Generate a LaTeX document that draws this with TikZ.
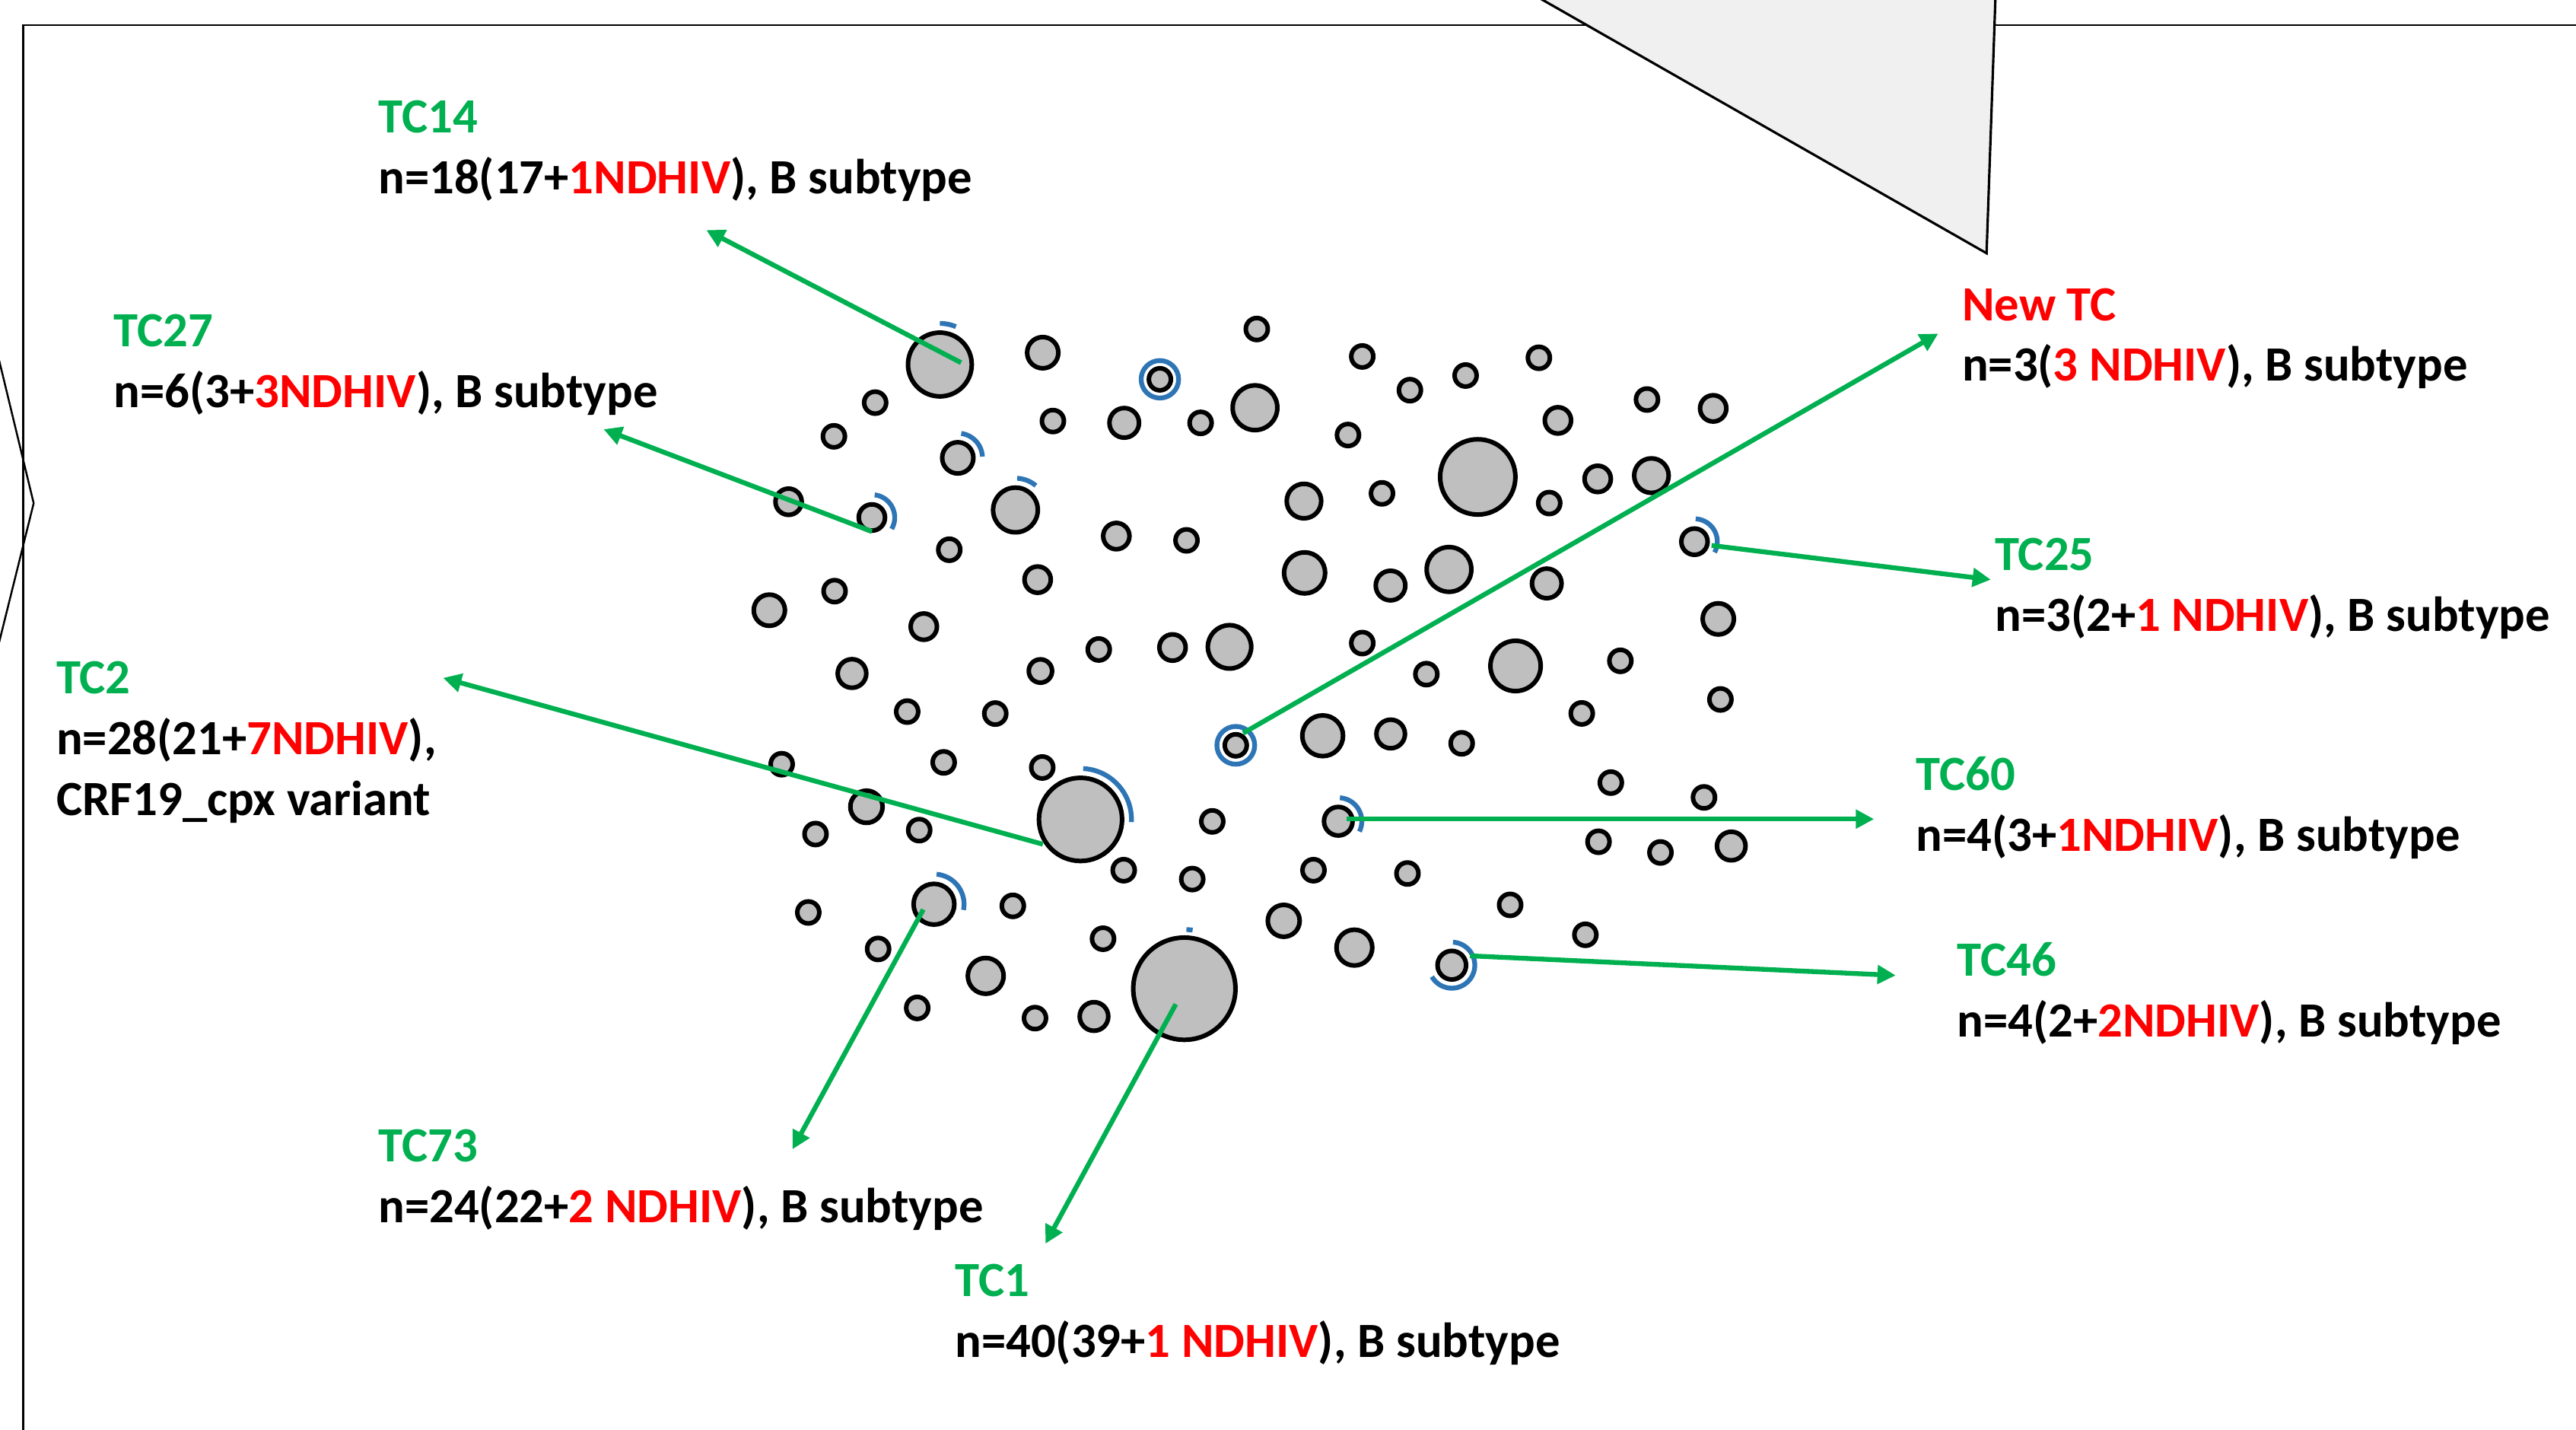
\documentclass[tikz,border=0pt]{standalone}
\usepackage{fontspec}
\setmainfont{Carlito}
\usetikzlibrary{arrows.meta}
\definecolor{tcgreen}{HTML}{00B050}
\definecolor{ndred}{HTML}{FF0000}
\definecolor{ringblue}{HTML}{2E75B6}
\definecolor{blobgray}{HTML}{BFBFBF}
\definecolor{panelgray}{HTML}{F0F0F0}
% one grey transmission-cluster dot: name, x, y, radius
\newcommand\blob[4]{\node[blob, minimum size={#4*0.43188mm}] (#1) at (#2,#3) {};}
% blue partial ring round a dot: centre x, centre y, radius, from angle, to angle
\newcommand\halo[5]{\draw[ring] plot[domain=#4:#5, samples=40] ({#1+#3*cos(\x)}, {#2-#3*sin(\x)});}
\newcommand\nd[1]{\textcolor{ndred}{#1}}
\begin{document}
\begin{tikzpicture}[x=0.021594cm, y=-0.021594cm,
  blob/.style={circle, draw=black, fill=blobgray, line width=1.7pt, inner sep=0pt, outer sep=0pt},
  ring/.style={draw=ringblue, line width=1.8pt},
  pointer/.style={draw=tcgreen, line width=1.8pt, -{Triangle[length=0.24cm,width=0.24cm]}},
  lbl/.style={anchor=base west, inner sep=0pt, font=\bfseries\fontsize{18.4pt}{22pt}\selectfont},
  tcname/.style={lbl, text=tcgreen},
  tcinfo/.style={lbl, text=black},
  frame/.style={draw=black, line width=0.7pt}]
\useasboundingbox (0,0) rectangle (1568,870);
\clip (0,0) rectangle (1568,870);

% slide frame and shapes cut by the edges
\draw[frame] (14.2,880) -- (14.2,15.4) -- (1580,15.4);
\draw[frame] (-10,180) -- (20.5,306.2) -- (-10,429);
\filldraw[fill=panelgray, draw=black, line width=0.9pt]
  (924.0,-8.6) -- (1209.2,154.1) -- (1214.9,-10) -- cycle;

% cluster dots
\blob{c1}{572.1}{221.8}{19.4}
\blob{c2}{634.7}{214.6}{9.5}
\blob{c3}{765.0}{200.2}{6.7}
\blob{c4}{706.0}{230.8}{6.7}
\blob{c5}{532.7}{245.0}{6.7}
\blob{c6}{507.6}{265.5}{6.7}
\blob{c7}{640.9}{256.2}{6.7}
\blob{c8}{684.3}{257.3}{9.0}
\blob{c9}{730.8}{257.3}{6.7}
\blob{c10}{763.9}{248.1}{13.6}
\blob{c11}{583.0}{278.6}{9.5}
\blob{c12}{618.1}{310.3}{13.6}
\blob{c13}{480.0}{305.3}{8.0}
\blob{c14}{530.7}{314.9}{8.0}
\blob{c15}{577.8}{334.5}{6.7}
\blob{c16}{679.5}{326.2}{8.0}
\blob{c17}{722.2}{328.8}{6.7}
\blob{c18}{508.0}{359.7}{6.7}
\blob{c19}{631.6}{352.7}{8.0}
\blob{c20}{468.3}{371.3}{9.5}
\blob{c21}{562.3}{381.3}{8.0}
\blob{c22}{668.8}{395.2}{6.7}
\blob{c23}{713.7}{394.0}{8.0}
\blob{c24}{748.4}{393.6}{13.2}
\blob{c25}{829.2}{216.9}{6.7}
\blob{c26}{858.2}{237.4}{6.7}
\blob{c27}{892.1}{228.5}{6.7}
\blob{c28}{936.7}{217.7}{6.7}
\blob{c29}{820.5}{264.7}{6.7}
\blob{c30}{899.5}{290.2}{22.9}
\blob{c31}{948.3}{255.8}{8.0}
\blob{c32}{1002.5}{243.1}{6.7}
\blob{c33}{1042.8}{248.5}{8.0}
\blob{c34}{793.7}{304.9}{10.5}
\blob{c35}{841.2}{300.2}{6.7}
\blob{c36}{943.0}{306.1}{6.7}
\blob{c37}{972.5}{291.4}{8.0}
\blob{c38}{1005.2}{289.4}{10.5}
\blob{c39}{1031.4}{329.6}{8.0}
\blob{c40}{794.1}{348.6}{12.5}
\blob{c41}{846.4}{356.3}{9.0}
\blob{c42}{882.0}{346.5}{13.6}
\blob{c43}{941.5}{355.0}{9.0}
\blob{c44}{1045.9}{376.6}{9.5}
\blob{c45}{829.2}{391.3}{6.7}
\blob{c46}{922.5}{405.2}{15.3}
\blob{c47}{986.3}{402.1}{6.7}
\blob{c48}{868.2}{410.2}{6.7}
\blob{c49}{1047.2}{425.6}{6.7}
\blob{c50}{962.8}{434.1}{6.7}
\blob{c51}{805.1}{447.7}{12.4}
\blob{c52}{846.5}{446.6}{8.7}
\blob{c53}{889.7}{452.3}{6.7}
\blob{c54}{980.5}{476.2}{6.7}
\blob{c55}{1037.2}{485.2}{6.7}
\blob{c56}{814.6}{499.7}{8.7}
\blob{c57}{973.0}{512.2}{6.7}
\blob{c58}{1010.7}{518.7}{6.7}
\blob{c59}{1053.8}{514.8}{8.7}
\blob{c60}{799.5}{529.5}{6.7}
\blob{c61}{856.7}{531.5}{6.7}
\blob{c62}{919.2}{550.6}{6.7}
\blob{c63}{781.4}{560.3}{9.7}
\blob{c64}{824.4}{576.6}{10.9}
\blob{c65}{883.7}{587.3}{8.7}
\blob{c66}{965.0}{568.8}{6.7}
\blob{c67}{518.6}{409.8}{8.7}
\blob{c68}{633.3}{408.3}{7.1}
\blob{c69}{552.2}{433.0}{6.7}
\blob{c70}{605.8}{434.2}{6.7}
\blob{c71}{475.8}{465.0}{6.7}
\blob{c72}{574.4}{463.9}{6.7}
\blob{c73}{634.4}{467.0}{6.7}
\blob{c74}{752.2}{453.5}{6.7}
\blob{c75}{527.4}{490.9}{9.8}
\blob{c76}{496.4}{507.5}{6.7}
\blob{c77}{559.5}{505.1}{6.7}
\blob{c78}{657.7}{498.6}{25.3}
\blob{c79}{737.9}{499.8}{6.7}
\blob{c80}{684.0}{529.5}{6.7}
\blob{c81}{725.7}{534.9}{6.7}
\blob{c82}{492.0}{555.2}{6.7}
\blob{c83}{568.5}{550.2}{12.4}
\blob{c84}{616.5}{551.2}{6.7}
\blob{c85}{534.5}{577.4}{6.7}
\blob{c86}{671.4}{571.2}{6.7}
\blob{c87}{600.0}{593.8}{10.9}
\blob{c88}{558.3}{613.3}{6.7}
\blob{c89}{630.0}{619.5}{6.7}
\blob{c90}{665.9}{618.5}{8.7}
\blob{c91}{720.9}{601.6}{31.1}

% blue marks on the highlighted clusters
\halo{572.1}{221.8}{25}{67}{90}
\halo{583.0}{278.6}{15}{3}{82}
\halo{618.1}{310.3}{19.3}{50}{87}
\halo{530.7}{314.9}{13.9}{-30}{83}
\halo{1031.4}{329.6}{13.9}{-28}{87}
\halo{657.7}{498.6}{31}{-3}{87}
\halo{814.6}{499.7}{14.3}{-26}{86}
\halo{568.5}{550.2}{18.3}{-11}{85}
\halo{883.7}{587.3}{14}{-150}{87}
\halo{720.9}{601.6}{36}{82}{88}
\draw[ring] (c4.center) circle[radius=11.4];
\draw[ring] (c74.center) circle[radius=11.5];

% labels
\node[tcname] (n14) at (230,81) {TC14};
\node[tcinfo] (i14) at (230,118) {n=18(17+\nd{1NDHIV}), B subtype};
\node[tcname] (n27) at (69,211) {TC27};
\node[tcinfo] (i27) at (69,248) {n=6(3+\nd{3NDHIV}), B subtype};
\node[tcname] (n2) at (34,422) {TC2};
\node[tcinfo] (i2) at (34,459) {n=28(21+\nd{7NDHIV}),};
\node[tcinfo] (j2) at (34,496) {CRF19\_cpx variant};
\node[lbl, text=ndred] (nnew) at (1194,195) {New TC};
\node[tcinfo] (inew) at (1194,232) {n=3(\nd{3 NDHIV}), B subtype};
\node[tcname] (n25) at (1214,347) {TC25};
\node[tcinfo] (i25) at (1214,384) {n=3(2+\nd{1 NDHIV}), B subtype};
\node[tcname] (n60) at (1166,481) {TC60};
\node[tcinfo] (i60) at (1166,518) {n=4(3+\nd{1NDHIV}), B subtype};
\node[tcname] (n46) at (1191,594) {TC46};
\node[tcinfo] (i46) at (1191,631) {n=4(2+\nd{2NDHIV}), B subtype};
\node[tcname] (n73) at (230,707) {TC73};
\node[tcinfo] (i73) at (230,744) {n=24(22+\nd{2 NDHIV}), B subtype};
\node[tcname] (n1) at (581,789) {TC1};
\node[tcinfo] (i1) at (581,826) {n=40(39+\nd{1 NDHIV}), B subtype};

% pointer ends
\coordinate (s14) at (585.0,220.7);  \coordinate (t14) at (429.9,140.0);
\coordinate (s27) at (530.7,323.4);  \coordinate (t27) at (367.4,261.2);
\coordinate (s2) at (634.8,513.7);   \coordinate (t2) at (269.7,412.5);
\coordinate (s73) at (562.0,553.4);  \coordinate (t73) at (482.4,699.3);
\coordinate (s1) at (715.7,611.0);   \coordinate (t1) at (636.3,756.8);
\coordinate (snew) at (756.7,446.1); \coordinate (tnew) at (1179.8,203.0);
\coordinate (s25) at (1041.8,331.9); \coordinate (t25) at (1211.8,352.7);
\coordinate (s60) at (819.5,498.4);  \coordinate (t60) at (1140.7,498.4);
\coordinate (s46) at (894.8,581.6);  \coordinate (t46) at (1153.9,593.5);

\draw[pointer] (s14) -- (t14);
\draw[pointer] (s27) -- (t27);
\draw[pointer] (s2) -- (t2);
\draw[pointer] (s73) -- (t73);
\draw[pointer] (s1) -- (t1);
\draw[pointer] (snew) -- (tnew);
\draw[pointer] (s25) -- (t25);
\draw[pointer] (s60) -- (t60);
\draw[pointer] (s46) -- (t46);
\end{tikzpicture}
\end{document}
